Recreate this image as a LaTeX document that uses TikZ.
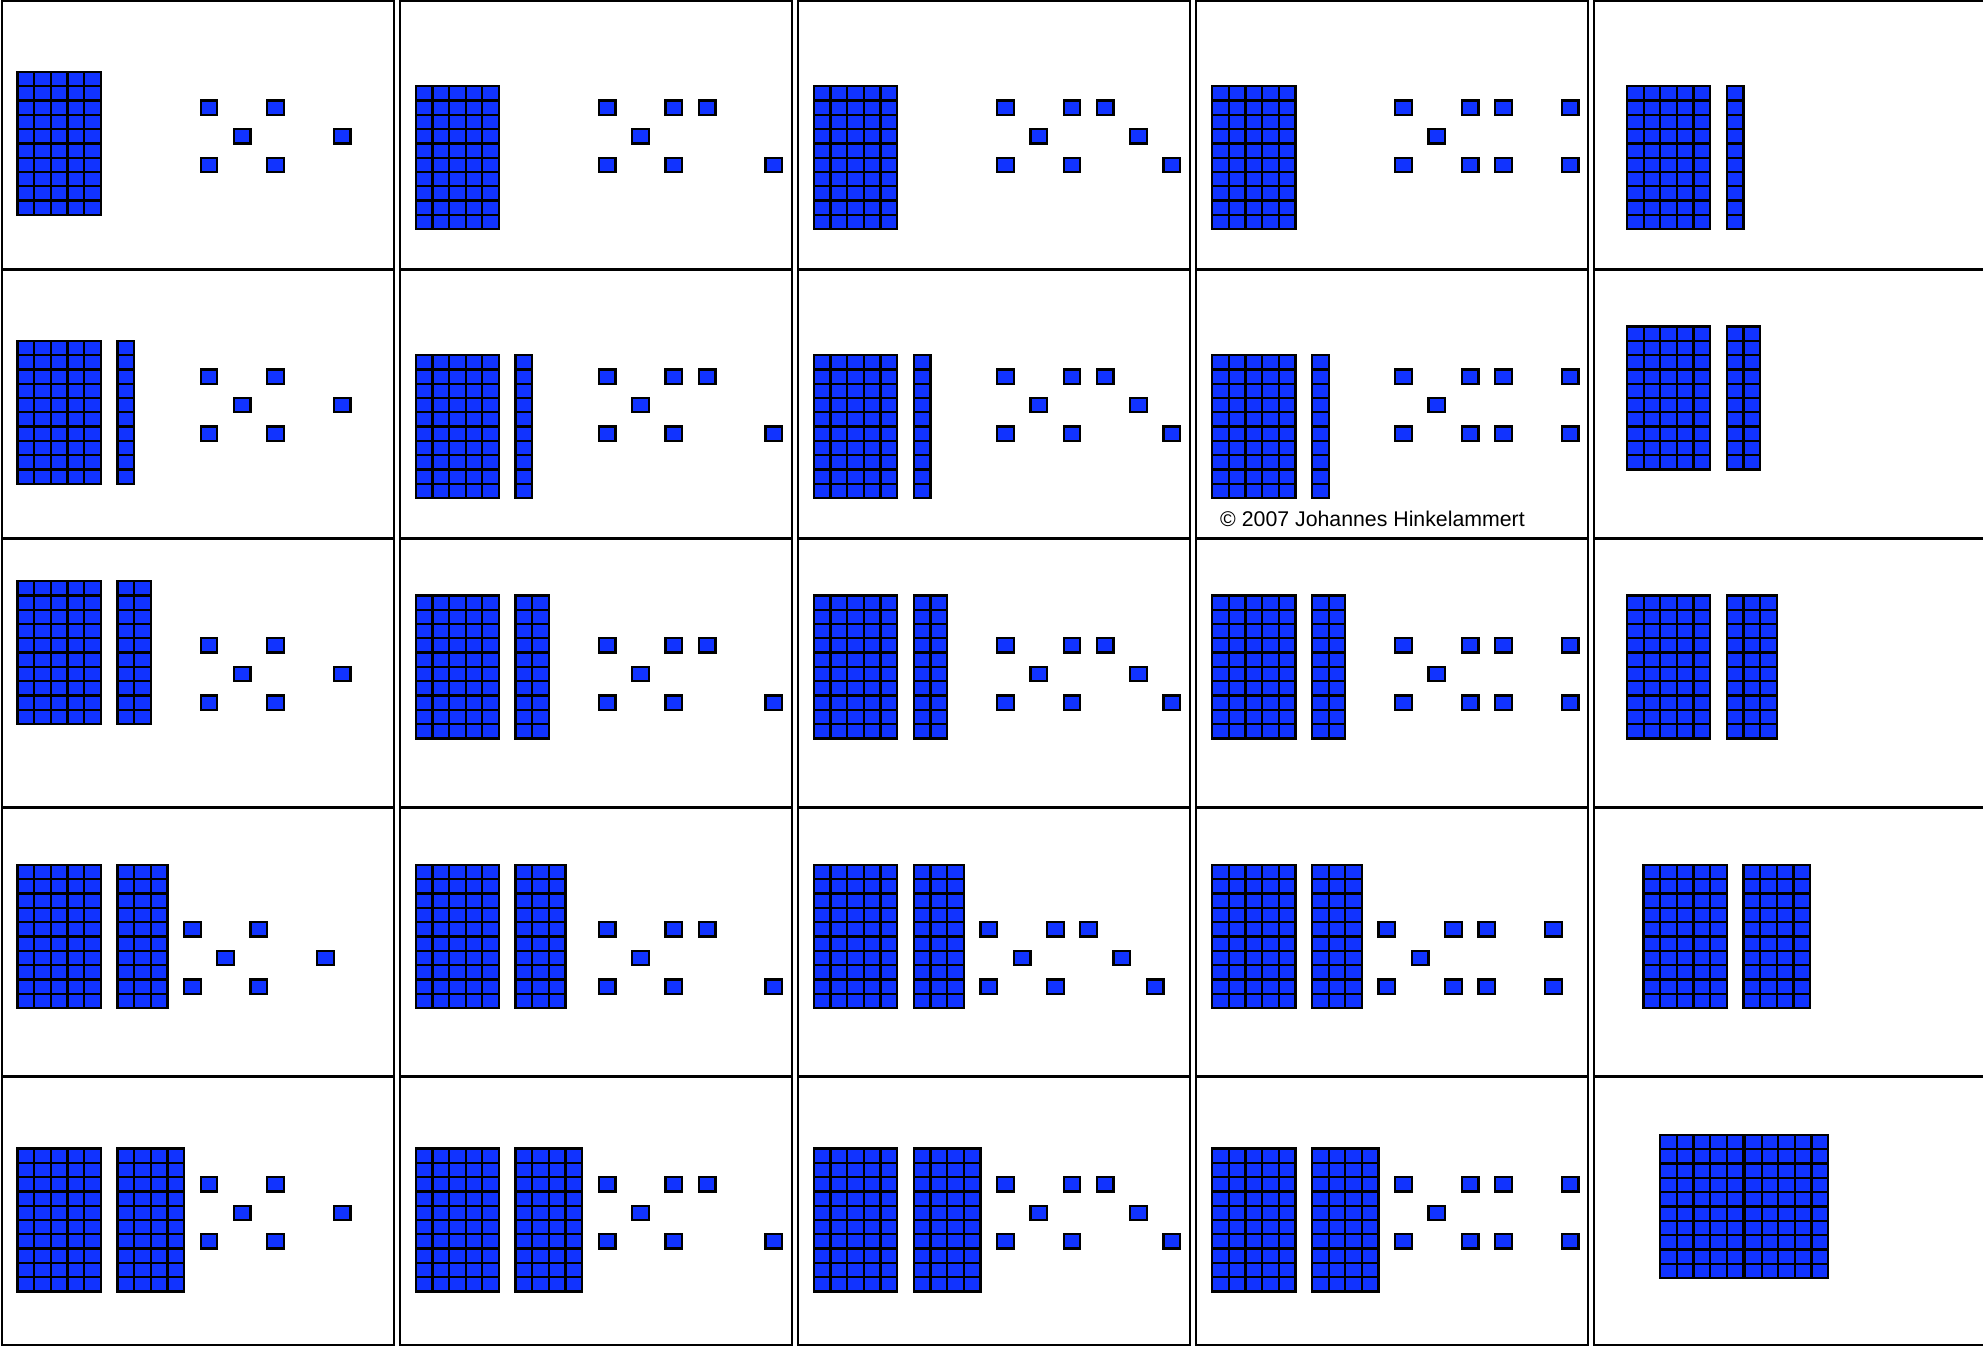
\documentclass[tikz,border=0pt]{standalone}
\usepackage{fontspec}
\setmainfont{Liberation Sans}
\usepackage{tikz}
\definecolor{cubeblue}{RGB}{17,51,255}

% size of one small cube
\newcommand{\uw}{16.65}
\newcommand{\vh}{14.3}

% dot patterns for 6, 7, 8, 9 (column/row on a grid of two cubes)
\newcommand{\patsix}{0/0,2/0,1/1,4/1,0/2,2/2}
\newcommand{\patseven}{0/0,2/0,3/0,1/1,0/2,2/2,5/2}
\newcommand{\pateight}{0/0,2/0,3/0,1/1,4/1,0/2,2/2,5/2}
\newcommand{\patnine}{0/0,2/0,3/0,5/0,1/1,0/2,2/2,3/2,5/2}

% rods of ten: x, y of top left corner, number of rods
\newcommand{\rods}[3]{%
  \foreach \i in {1,...,#3}
    \foreach \j in {1,...,10}
      \draw[cube] ({#1+(\i-1)*\uw},{#2+(\j-1)*\vh}) rectangle +(\uw,\vh);}

% loose cubes: x, y of top left corner, pattern
\newcommand{\ones}[3]{%
  \foreach \i/\j in #3
    \draw[cube] ({#1+2*\i*\uw},{#2+2*\j*\vh}) rectangle +(\uw,\vh);}

% card: column, row, shift of block, extra rods, dot height, dot column, pattern
\newcommand{\card}[7]{%
  \pgfmathsetmacro{\cx}{1.5+398.2*#1+16}
  \pgfmathsetmacro{\cy}{1.5+268.9*#2+#5}
  \rods{\cx}{\cy-#3*\vh}{5}
  \ifnum#4>0 \rods{\cx+6*\uw}{\cy-#3*\vh}{#4}\fi
  \ones{\cx+#6*\uw}{\cy}{#7}}

\begin{document}
\begin{tikzpicture}[x=1pt,y=-1pt,
    cube/.style={draw=black, fill=cubeblue, line width=2.3pt},
    cardline/.style={draw=black, line width=2pt}]
  \useasboundingbox (0,0) rectangle (1983,1346);
  \fill[white] (0,0) rectangle (1983,1346);
  \clip (0,0) rectangle (1983,1346);

  % card frames
  \foreach \c in {0,...,4}
    \foreach \r in {0,...,4}
      \draw[cardline] ({1.5+398.2*\c},{1.5+268.9*\r}) rectangle +(392,267.4);

  % row 1
  \card{0}{0}{2}{0}{99}{11}{\patsix}
  \card{1}{0}{1}{0}{99}{11}{\patseven}
  \card{2}{0}{1}{0}{99}{11}{\pateight}
  \card{3}{0}{1}{0}{99}{11}{\patnine}
  \rods{1627}{86.2}{5}
  \rods{1726.9}{86.2}{1}

  % row 2
  \card{0}{1}{2}{1}{99}{11}{\patsix}
  \card{1}{1}{1}{1}{99}{11}{\patseven}
  \card{2}{1}{1}{1}{99}{11}{\pateight}
  \card{3}{1}{1}{1}{99}{11}{\patnine}
  \rods{1627}{326.5}{5}
  \rods{1726.9}{326.5}{2}
  \node[anchor=base west, inner sep=0pt, font=\fontsize{21.3}{25}\selectfont]
    (copyright) at (1220,526.7) {© 2007 Johannes Hinkelammert};

  % row 3
  \card{0}{2}{4}{2}{99}{11}{\patsix}
  \card{1}{2}{3}{2}{99}{11}{\patseven}
  \card{2}{2}{3}{2}{99}{11}{\pateight}
  \card{3}{2}{3}{2}{99}{11}{\patnine}
  \rods{1627}{595.4}{5}
  \rods{1726.9}{595.4}{3}

  % row 4
  \card{0}{3}{4}{3}{114}{10}{\patsix}
  \card{1}{3}{4}{3}{114}{11}{\patseven}
  \card{2}{3}{4}{3}{114}{10}{\pateight}
  \card{3}{3}{4}{3}{114}{10}{\patnine}
  \rods{1643.6}{865}{5}
  \rods{1743.5}{865}{4}

  % row 5
  \card{0}{4}{2}{4}{100}{11}{\patsix}
  \card{1}{4}{2}{4}{100}{11}{\patseven}
  \card{2}{4}{2}{4}{100}{11}{\pateight}
  \card{3}{4}{2}{4}{100}{11}{\patnine}
  \rods{1660.2}{1135}{5}
  \rods{1745}{1135}{5}
\end{tikzpicture}
\end{document}
